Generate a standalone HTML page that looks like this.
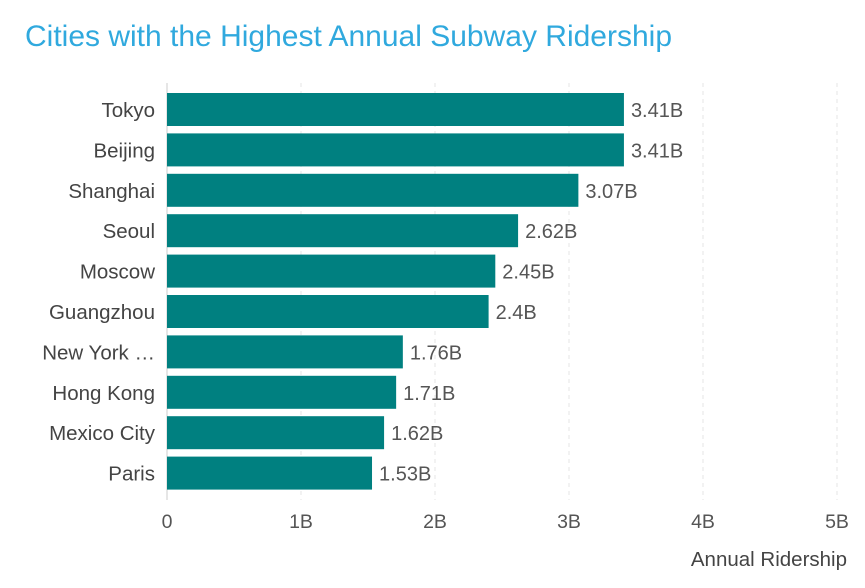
<!DOCTYPE html>
<html><head><meta charset="utf-8"><style>
body{margin:0;background:#fff;width:865px;height:583px;overflow:hidden;font-family:"Liberation Sans",sans-serif}
</style></head><body>
<svg width="865" height="583">
<text x="25" y="46" font-size="30" fill="#30a9de">Cities with the Highest Annual Subway Ridership</text>
<g id="grid"></g><g id="bars"></g><g id="axis"></g>
<text x="847" y="566" text-anchor="end" font-size="20.5" fill="#444">Annual Ridership</text>
</svg>
<script>
const cities=["Tokyo","Beijing","Shanghai","Seoul","Moscow","Guangzhou","New York …","Hong Kong","Mexico City","Paris"];
const ridership=[3.41,3.41,3.07,2.62,2.45,2.4,1.76,1.71,1.62,1.53];
const valueLabels=["3.41B","3.41B","3.07B","2.62B","2.45B","2.4B","1.76B","1.71B","1.62B","1.53B"];
const ticks=[0,1,2,3,4,5];
const tickLabels=["0","1B","2B","3B","4B","5B"];
const NS="http://www.w3.org/2000/svg";
const x=v=>167+v*134;
const y=i=>93+i*40.4;
function mk(t,a,p){const e=document.createElementNS(NS,t);for(const k in a)e.setAttribute(k,a[k]);p.appendChild(e);return e;}
const g=document.getElementById('grid'),b=document.getElementById('bars'),ax=document.getElementById('axis');
ticks.forEach((t,i)=>{
 const l=mk('line',{x1:x(t),x2:x(t),y1:83,y2:500,stroke:t===0?'#ccc':'#e4e4e4','stroke-dasharray':t===0?'':'4,4'},g);
 
 
 const tx=mk('text',{x:x(t),y:528,'text-anchor':'middle','font-size':19.5,fill:'#555'},ax);
 tx.textContent=tickLabels[i];
 
 
});
cities.forEach((c,i)=>{
 const r=mk('rect',{x:x(0),y:y(i),width:x(ridership[i])-x(0),height:33,fill:'#008080'},b);
 
 
 const lb=mk('text',{x:155,y:y(i)+24,'text-anchor':'end','font-size':20.5,fill:'#444'},ax);
 lb.textContent=c;
 
 
 const v=mk('text',{x:x(ridership[i])+7,y:y(i)+24,'font-size':20,fill:'#555'},ax);
 v.textContent=valueLabels[i];
 
 
});
</script>
</body></html>
